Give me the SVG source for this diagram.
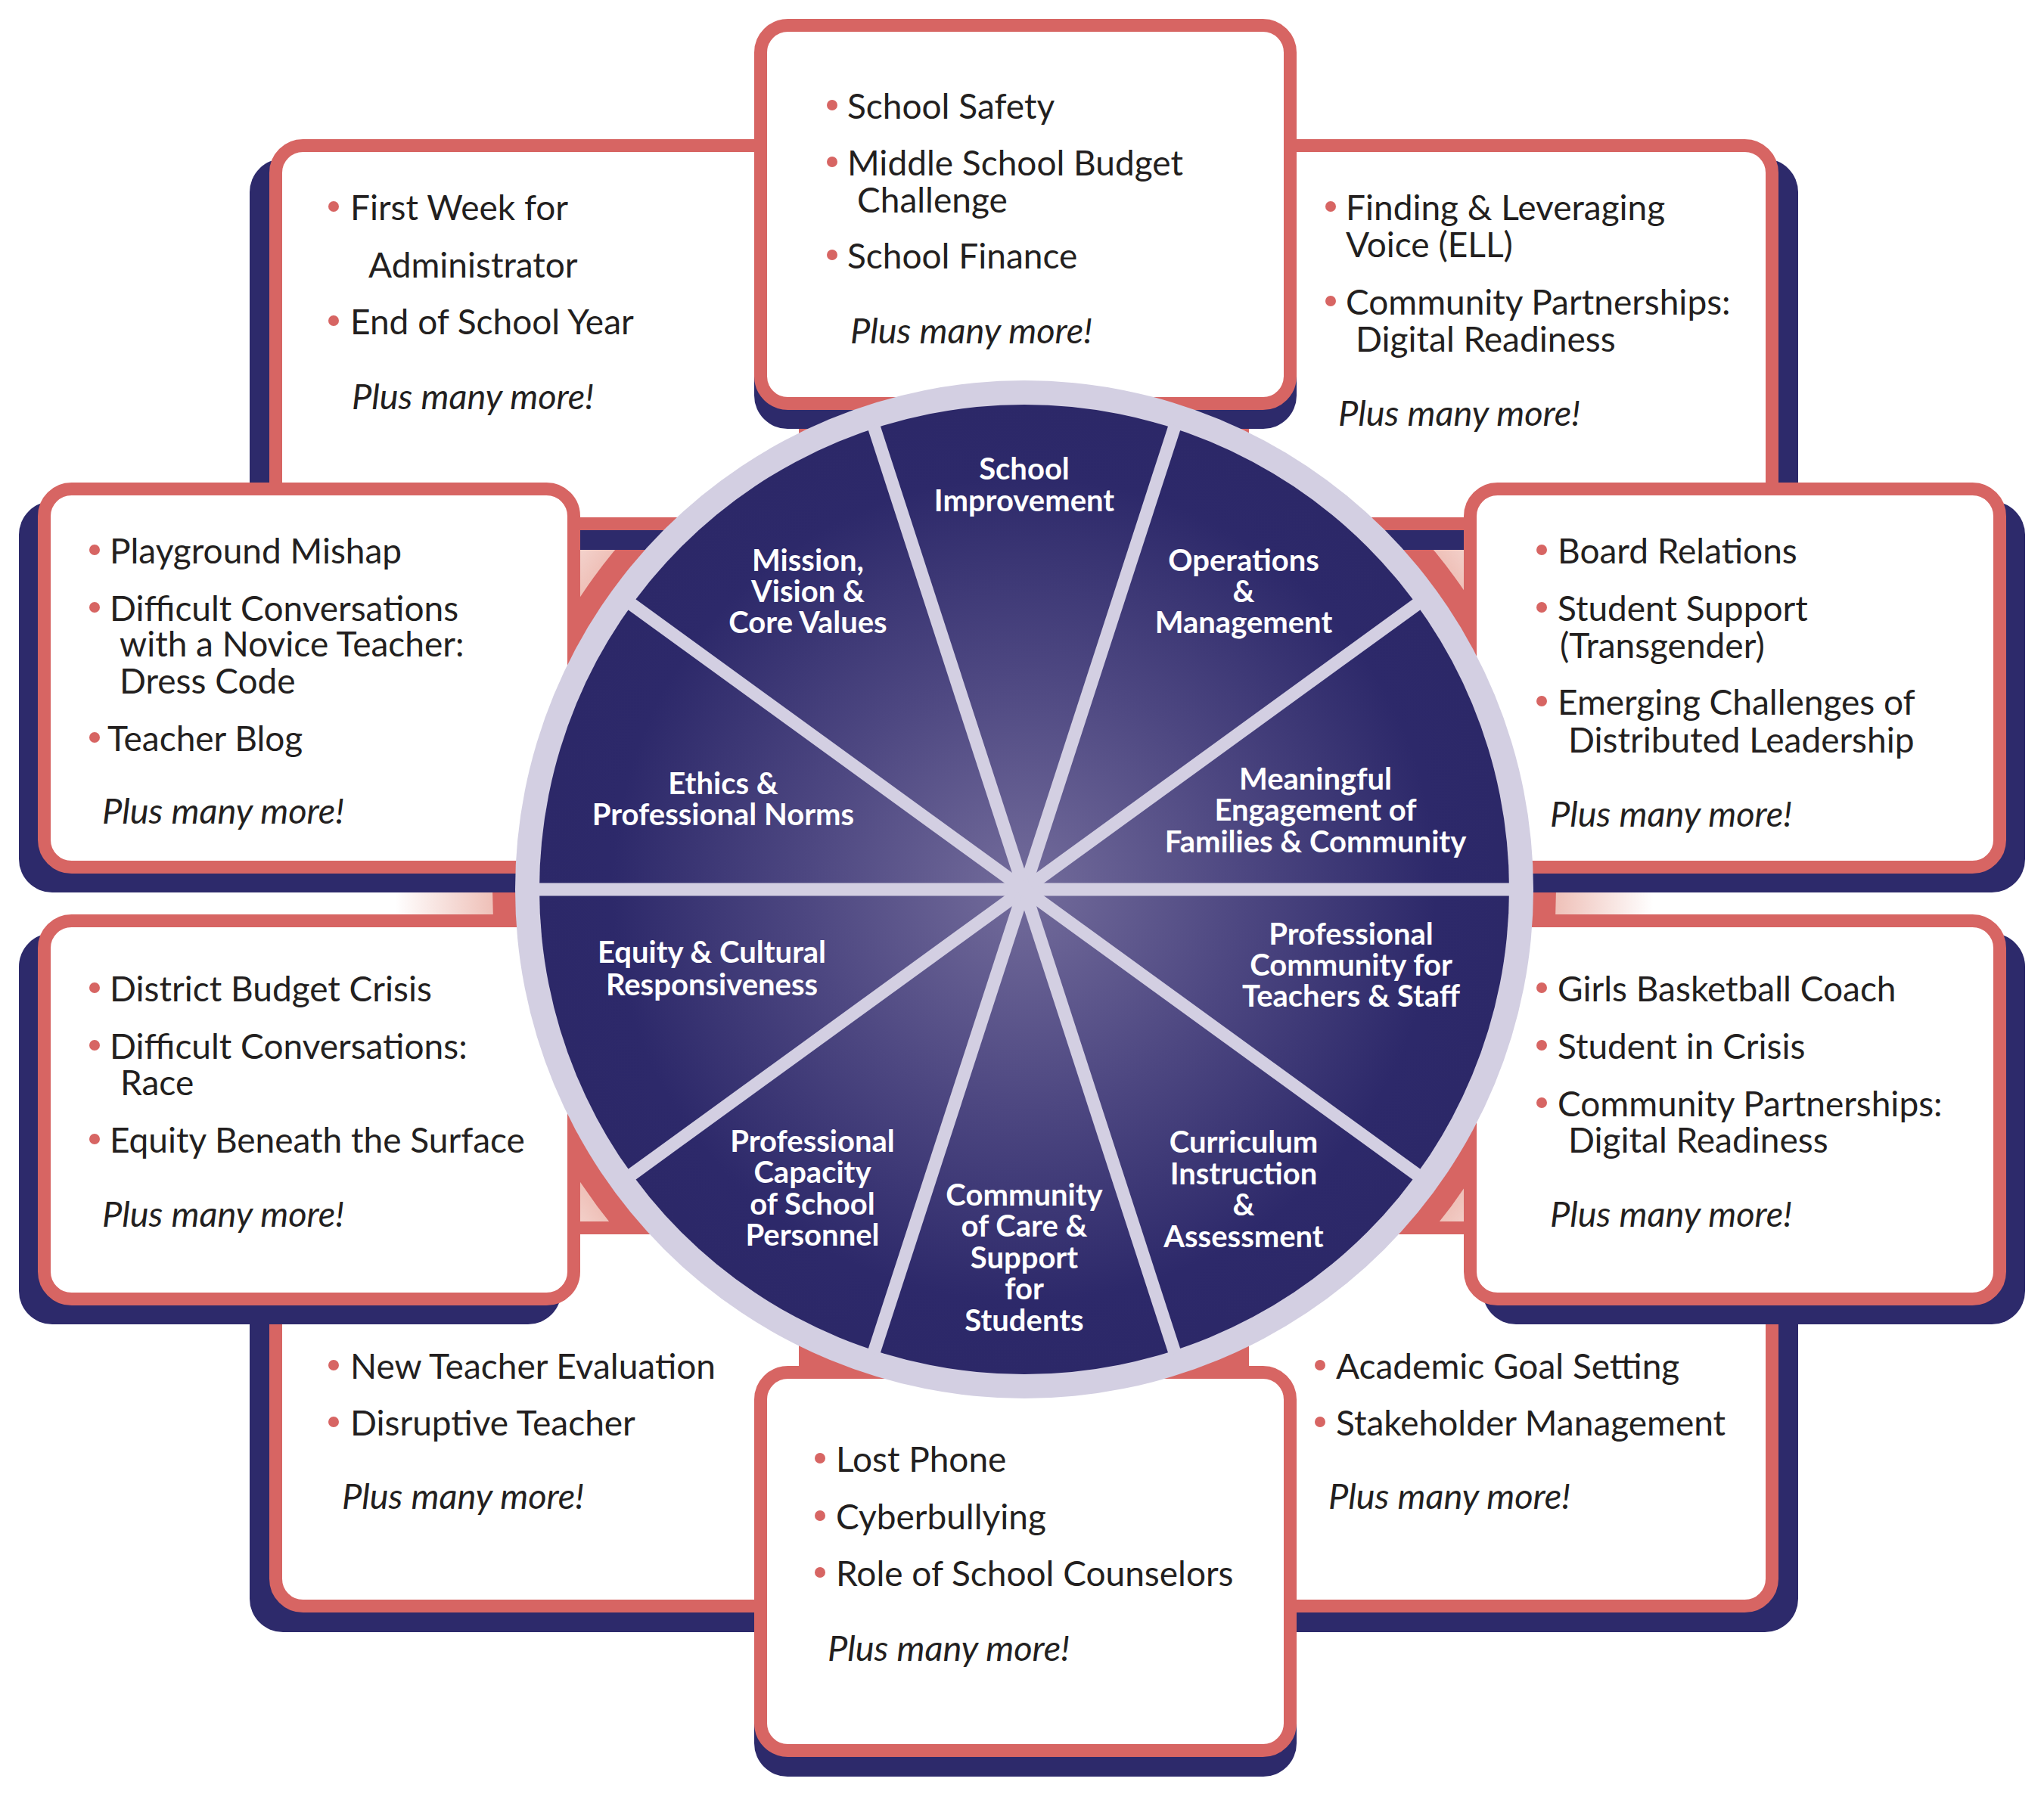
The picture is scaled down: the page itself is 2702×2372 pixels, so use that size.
<svg xmlns="http://www.w3.org/2000/svg" width="2702" height="2372" viewBox="0 0 2702 2372">
<defs>
<radialGradient id="bgGrad" gradientUnits="userSpaceOnUse" cx="1354" cy="1176" r="840">
<stop offset="0" stop-color="#efc2ba"/>
<stop offset="0.84" stop-color="#efc2ba"/>
<stop offset="0.99" stop-color="#ffffff"/>
<stop offset="1" stop-color="#ffffff"/>
</radialGradient>
<radialGradient id="discGrad" gradientUnits="userSpaceOnUse" cx="1354" cy="1176" r="641">
<stop offset="0" stop-color="#736c9b"/>
<stop offset="0.45" stop-color="#4d4781"/>
<stop offset="0.85" stop-color="#2d296a"/>
<stop offset="1" stop-color="#2c2868"/>
</radialGradient>
<style>
.shadow{fill:#2d2a6b}
.box{fill:#ffffff;stroke:#d76563;stroke-width:17}
.t{font-family:Lato,"Open Sans","Liberation Sans",sans-serif;font-size:46px;fill:#231f20}
.b{fill:#d76563}
.more{font-family:Lato,"Open Sans","Liberation Sans",sans-serif;font-size:47px;font-style:italic;fill:#231f20}
.lbl{font-family:Lato,"Open Sans","Liberation Sans",sans-serif;font-size:40px;font-weight:bold;fill:#ffffff;text-anchor:middle}
.sep{stroke:#d3cfe2;stroke-width:17;fill:none}
</style>
</defs>
<rect width="2702" height="2372" fill="#ffffff"/>
<g id="background">
<circle cx="1354" cy="1176" r="840" fill="url(#bgGrad)"/>
<circle cx="1354" cy="1176" r="703" fill="#d76563"/>
</g>

<g id="box-first-week">
<rect class="shadow" x="330" y="210" width="717" height="517" rx="44"/>
<rect class="box" x="364.5" y="192.5" width="700" height="500" rx="36"/>
<circle class="b" cx="441" cy="273" r="7"/>
<text class="t"><tspan x="463" y="291">First Week for</tspan><tspan x="487" y="367">Administrator</tspan></text>
<circle class="b" cx="441" cy="424" r="7"/>
<text class="t" x="463" y="442">End of School Year</text>
<text class="more" x="465" y="541">Plus many more!</text>
</g>

<g id="box-finding-voice">
<rect class="shadow" x="1660" y="210" width="717" height="517" rx="44"/>
<rect class="box" x="1642.5" y="192.5" width="700" height="500" rx="36"/>
<circle class="b" cx="1759" cy="273" r="7"/>
<text class="t"><tspan x="1779" y="291">Finding &amp; Leveraging</tspan><tspan x="1779" y="340">Voice (ELL)</tspan></text>
<circle class="b" cx="1759" cy="398" r="7"/>
<text class="t"><tspan x="1779" y="416">Community Partnerships:</tspan><tspan x="1792" y="465">Digital Readiness</tspan></text>
<text class="more" x="1769" y="563">Plus many more!</text>
</g>

<g id="box-new-teacher">
<rect class="shadow" x="330" y="1641" width="717" height="517" rx="44"/>
<rect class="box" x="364.5" y="1623.5" width="700" height="500" rx="36"/>
<circle class="b" cx="441" cy="1805" r="7"/>
<text class="t" x="463" y="1823">New Teacher Evaluation</text>
<circle class="b" cx="441" cy="1880" r="7"/>
<text class="t" x="463" y="1898">Disruptive Teacher</text>
<text class="more" x="452" y="1995">Plus many more!</text>
</g>

<g id="box-academic">
<rect class="shadow" x="1660" y="1641" width="717" height="517" rx="44"/>
<rect class="box" x="1642.5" y="1623.5" width="700" height="500" rx="36"/>
<circle class="b" cx="1745" cy="1805" r="7"/>
<text class="t" x="1766" y="1823">Academic Goal Setting</text>
<circle class="b" cx="1745" cy="1880" r="7"/>
<text class="t" x="1766" y="1898">Stakeholder Management</text>
<text class="more" x="1756" y="1995">Plus many more!</text>
</g>

<g id="box-school-safety">
<rect class="shadow" x="997" y="50" width="717" height="517" rx="44"/>
<rect class="box" x="1005.5" y="33.5" width="700" height="500" rx="36"/>
<circle class="b" cx="1100" cy="139" r="7"/>
<text class="t" x="1120" y="157">School Safety</text>
<circle class="b" cx="1100" cy="214" r="7"/>
<text class="t"><tspan x="1120" y="232">Middle School Budget</tspan><tspan x="1133" y="281">Challenge</tspan></text>
<circle class="b" cx="1100" cy="337" r="7"/>
<text class="t" x="1120" y="355">School Finance</text>
<text class="more" x="1124" y="454">Plus many more!</text>
</g>

<g id="box-lost-phone">
<rect class="shadow" x="997" y="1832" width="717" height="517" rx="44"/>
<rect class="box" x="1005.5" y="1814.5" width="700" height="500" rx="36"/>
<circle class="b" cx="1084" cy="1928" r="7"/>
<text class="t" x="1105" y="1946">Lost Phone</text>
<circle class="b" cx="1084" cy="2004" r="7"/>
<text class="t" x="1105" y="2022">Cyberbullying</text>
<circle class="b" cx="1084" cy="2079" r="7"/>
<text class="t" x="1105" y="2097">Role of School Counselors</text>
<text class="more" x="1094" y="2196">Plus many more!</text>
</g>

<g id="box-playground">
<rect class="shadow" x="25" y="663" width="717" height="517" rx="44"/>
<rect class="box" x="58.5" y="646.5" width="700" height="500" rx="36"/>
<circle class="b" cx="125" cy="727" r="7"/>
<text class="t" x="145" y="745">Playground Mishap</text>
<circle class="b" cx="125" cy="803" r="7"/>
<text class="t"><tspan x="145" y="821">Difficult Conversations</tspan><tspan x="158" y="868">with a Novice Teacher:</tspan><tspan x="158" y="917">Dress Code</tspan></text>
<circle class="b" cx="125" cy="975" r="7"/>
<text class="t" x="142" y="993">Teacher Blog</text>
<text class="more" x="135" y="1089">Plus many more!</text>
</g>

<g id="box-district">
<rect class="shadow" x="25" y="1234" width="717" height="517" rx="44"/>
<rect class="box" x="58.5" y="1217.5" width="700" height="500" rx="36"/>
<circle class="b" cx="125" cy="1306" r="7"/>
<text class="t" x="145" y="1324">District Budget Crisis</text>
<circle class="b" cx="125" cy="1382" r="7"/>
<text class="t"><tspan x="145" y="1400">Difficult Conversations:</tspan><tspan x="159" y="1448">Race</tspan></text>
<circle class="b" cx="125" cy="1506" r="7"/>
<text class="t" x="145" y="1524">Equity Beneath the Surface</text>
<text class="more" x="135" y="1622">Plus many more!</text>
</g>

<g id="box-board">
<rect class="shadow" x="1960" y="663" width="717" height="517" rx="44"/>
<rect class="box" x="1943.5" y="646.5" width="700" height="500" rx="36"/>
<circle class="b" cx="2038" cy="727" r="7"/>
<text class="t" x="2059" y="745">Board Relations</text>
<circle class="b" cx="2038" cy="803" r="7"/>
<text class="t"><tspan x="2059" y="821">Student Support</tspan><tspan x="2062" y="870">(Transgender)</tspan></text>
<circle class="b" cx="2038" cy="927" r="7"/>
<text class="t"><tspan x="2059" y="945">Emerging Challenges of</tspan><tspan x="2073" y="995">Distributed Leadership</tspan></text>
<text class="more" x="2049" y="1093">Plus many more!</text>
</g>

<g id="box-girls">
<rect class="shadow" x="1960" y="1234" width="717" height="517" rx="44"/>
<rect class="box" x="1943.5" y="1217.5" width="700" height="500" rx="36"/>
<circle class="b" cx="2038" cy="1306" r="7"/>
<text class="t" x="2059" y="1324">Girls Basketball Coach</text>
<circle class="b" cx="2038" cy="1382" r="7"/>
<text class="t" x="2059" y="1400">Student in Crisis</text>
<circle class="b" cx="2038" cy="1458" r="7"/>
<text class="t"><tspan x="2059" y="1476">Community Partnerships:</tspan><tspan x="2073" y="1524">Digital Readiness</tspan></text>
<text class="more" x="2049" y="1622">Plus many more!</text>
</g>

<g id="wheel">
<circle cx="1354" cy="1176" r="673" fill="#d3cfe2"/>
<circle cx="1354" cy="1176" r="641" fill="url(#discGrad)"/>
<g id="connectors">
<line class="sep" x1="709" y1="1176" x2="1999" y2="1176"/>
<line class="sep" x1="1875.8" y1="797" x2="832.2" y2="1555"/>
<line class="sep" x1="1553.3" y1="562.6" x2="1154.7" y2="1789.4"/>
<line class="sep" x1="1154.7" y1="562.6" x2="1553.3" y2="1789.4"/>
<line class="sep" x1="832.2" y1="797" x2="1875.8" y2="1555"/>
</g>
</g>

<g id="seg-school-improvement"><text class="lbl"><tspan x="1354" y="634">School</tspan><tspan x="1354" y="676">Improvement</tspan></text></g>
<g id="seg-operations"><text class="lbl"><tspan x="1644" y="755">Operations</tspan><tspan x="1644" y="796">&amp;</tspan><tspan x="1644" y="837">Management</tspan></text></g>
<g id="seg-meaningful"><text class="lbl"><tspan x="1739" y="1044">Meaningful</tspan><tspan x="1739" y="1085">Engagement of</tspan><tspan x="1739" y="1127">Families &amp; Community</tspan></text></g>
<g id="seg-professional-community"><text class="lbl"><tspan x="1786" y="1249">Professional</tspan><tspan x="1786" y="1290">Community for</tspan><tspan x="1786" y="1331">Teachers &amp; Staff</tspan></text></g>
<g id="seg-curriculum"><text class="lbl"><tspan x="1644" y="1524">Curriculum</tspan><tspan x="1644" y="1566">Instruction</tspan><tspan x="1644" y="1607">&amp;</tspan><tspan x="1644" y="1649">Assessment</tspan></text></g>
<g id="seg-community-care"><text class="lbl"><tspan x="1354" y="1594">Community</tspan><tspan x="1354" y="1635">of Care &amp;</tspan><tspan x="1354" y="1677">Support</tspan><tspan x="1354" y="1718">for</tspan><tspan x="1354" y="1760">Students</tspan></text></g>
<g id="seg-professional-capacity"><text class="lbl"><tspan x="1074" y="1523">Professional</tspan><tspan x="1074" y="1564">Capacity</tspan><tspan x="1074" y="1606">of School</tspan><tspan x="1074" y="1647">Personnel</tspan></text></g>
<g id="seg-equity"><text class="lbl"><tspan x="941" y="1273">Equity &amp; Cultural</tspan><tspan x="941" y="1316">Responsiveness</tspan></text></g>
<g id="seg-ethics"><text class="lbl"><tspan x="956" y="1050">Ethics &amp;</tspan><tspan x="956" y="1091">Professional Norms</tspan></text></g>
<g id="seg-mission"><text class="lbl"><tspan x="1068" y="755">Mission,</tspan><tspan x="1068" y="796">Vision &amp;</tspan><tspan x="1068" y="837">Core Values</tspan></text></g>
</svg>
